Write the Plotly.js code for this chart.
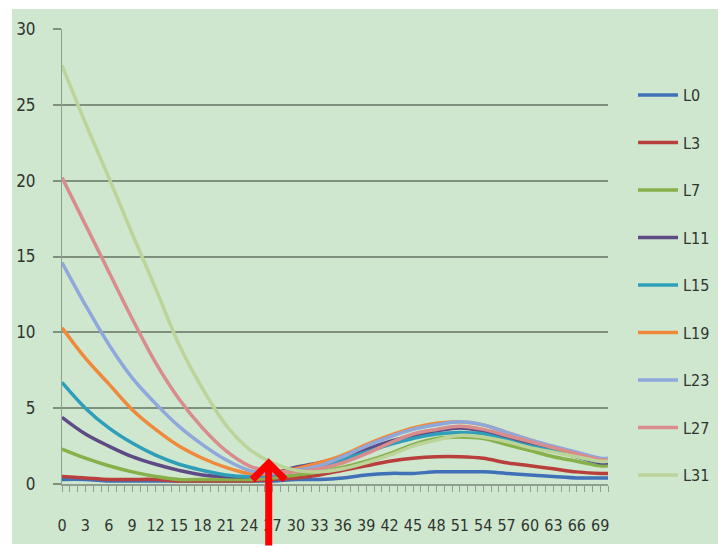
<!DOCTYPE html>
<html>
<head>
<meta charset="utf-8">
<script src="https://cdn.plot.ly/plotly-3.0.1.min.js"></script>
<style>
html,body{margin:0;padding:0;background:#cfe7cf;overflow:hidden;scrollbar-width:none;width:718px;height:547px;}
::-webkit-scrollbar{display:none;width:0;height:0;}
#chart{width:718px;height:547px;}
</style>
</head>
<body>
<div id="chart"></div>
<script>
const xValues = [0,3,6,9,12,15,18,21,24,27,30,33,36,39,42,45,48,51,54,57,60,63,66,69,70];
const tickVals = [0,3,6,9,12,15,18,21,24,27,30,33,36,39,42,45,48,51,54,57,60,63,66,69];
const tickText = ["0","3","6","9","12","15","18","21","24","27","30","33","36","39","42","45","48","51","54","57","60","63","66","69"];
const seriesNames = ["L0","L3","L7","L11","L15","L19","L23","L27","L31"];
const L0  = [0.3,0.3,0.2,0.2,0.2,0.2,0.2,0.2,0.2,0.2,0.3,0.3,0.4,0.6,0.7,0.7,0.8,0.8,0.8,0.7,0.6,0.5,0.4,0.4,0.4];
const L3  = [0.5,0.4,0.3,0.3,0.3,0.2,0.2,0.2,0.2,0.3,0.4,0.6,0.9,1.2,1.5,1.7,1.8,1.8,1.7,1.4,1.2,1.0,0.8,0.7,0.7];
const L7  = [2.3,1.7,1.2,0.8,0.5,0.3,0.3,0.3,0.3,0.4,0.6,0.8,1.1,1.5,2.0,2.6,3.0,3.1,3.0,2.6,2.2,1.8,1.5,1.2,1.2];
const L11 = [4.4,3.3,2.5,1.8,1.3,0.9,0.6,0.5,0.5,0.7,1.1,1.4,1.8,2.3,2.8,3.2,3.5,3.7,3.5,3.1,2.6,2.2,1.8,1.4,1.4];
const L15 = [6.7,5.0,3.7,2.7,1.9,1.3,0.9,0.6,0.5,0.6,0.9,1.2,1.6,2.1,2.6,3.0,3.3,3.4,3.3,2.9,2.5,2.2,1.8,1.5,1.5];
const L19 = [10.3,8.3,6.6,4.9,3.6,2.5,1.7,1.1,0.7,0.7,1.0,1.4,1.9,2.6,3.2,3.7,4.0,4.1,3.9,3.4,2.9,2.4,2.0,1.6,1.6];
const L23 = [14.6,11.8,9.2,7.0,5.3,3.8,2.6,1.6,0.9,0.7,0.9,1.2,1.8,2.5,3.1,3.6,3.9,4.1,3.9,3.4,2.9,2.5,2.1,1.7,1.7];
const L27 = [20.2,17.1,14.0,10.9,8.0,5.6,3.7,2.2,1.2,0.8,0.8,1.0,1.4,2.0,2.7,3.3,3.6,3.8,3.6,3.2,2.8,2.4,2.0,1.6,1.6];
const L31 = [27.6,23.8,20.2,16.5,12.9,9.2,6.3,3.9,2.3,1.4,0.9,0.8,1.0,1.4,1.9,2.5,2.9,3.2,3.1,2.8,2.4,2.1,1.8,1.5,1.5];
const seriesValues = [L0,L3,L7,L11,L15,L19,L23,L27,L31];
const seriesColors = ["#3f70b8","#b83f3c","#86b04a","#5e4b85","#2f9fb9","#ef8a3c","#8fa8dc","#d98c8c","#bcd49a"];

const font = "'DejaVu Sans Condensed', 'Liberation Sans Narrow', sans-serif";
const traces = seriesNames.map((n,i)=>({
  type:'scatter', mode:'lines', name:n, legendgroup:n,
  x:xValues, y:seriesValues[i],
  line:{color:seriesColors[i], width:3.5, shape:'spline', smoothing:1}
}));

const W=718, L=62, R=110, PW=W-L-R;
const H=547, T=29, B=63, PH=H-T-B;
const layout = {
  width:W, height:H,
  margin:{l:L, r:R, t:T, b:B, autoexpand:false},
  paper_bgcolor:'#cfe7cf', plot_bgcolor:'#cfe7cf',
  font:{family:font, size:16, color:'#333a33'},
  showlegend:true,
  legend:{x:(633-L)/PW, xanchor:'left', y:1-(78-T)/PH, yanchor:'top', bgcolor:'rgba(0,0,0,0)',
          tracegroupgap:23.7, font:{family:font, size:16, color:'#2f352f'}, itemwidth:40},
  xaxis:{range:[0,70], tickmode:'array', tickvals:tickVals, ticktext:tickText,
         showgrid:false, zeroline:false, showline:true, linecolor:'#8f9f8f', linewidth:2,
         ticks:'outside', ticklen:0, ticklabelstandoff:26, tickangle:0, automargin:false,
         minor:{ticks:'outside', ticklen:6, tickcolor:'#8f9f8f', tickwidth:1, dtick:1, tick0:0, showgrid:false},
         tickfont:{family:font, size:16, color:'#2f352f'}},
  yaxis:{range:[0,30], dtick:5, showgrid:true, gridcolor:'#7f907f', gridwidth:2,
         zeroline:false, showline:true, linecolor:'#8f9f8f', linewidth:1, automargin:false,
         ticks:'outside', ticklen:8, tickcolor:'#7f907f', tickwidth:2, ticklabelstandoff:14,
         tickfont:{family:font, size:17, color:'#2f352f'}},
  shapes:[
    {type:'rect', xref:'paper', yref:'paper', x0:-L/PW, x1:(12-L)/PW, y0:-B/PH, y1:1+T/PH, fillcolor:'#ffffff', line:{width:0}, layer:'below'},
    {type:'rect', xref:'paper', yref:'paper', x0:-L/PW, x1:1+R/PW, y0:1+(T-9)/PH, y1:1+T/PH, fillcolor:'#ffffff', line:{width:0}, layer:'below'},
    {type:'rect', xref:'paper', yref:'paper', x0:-L/PW, x1:1+R/PW, y0:-B/PH, y1:-(B-3)/PH, fillcolor:'#ffffff', line:{width:0}, layer:'below'}
  ],
  annotations:[
    {x:26.5, y:1.7, xref:'x', yref:'y', text:'', showarrow:true, ax:0, ay:95,
     arrowcolor:'#ff0000', arrowwidth:7, arrowhead:4, arrowsize:0.9}
  ]
};
Plotly.newPlot('chart', traces, layout, {displayModeBar:false, staticPlot:true});
</script>
</body>
</html>
